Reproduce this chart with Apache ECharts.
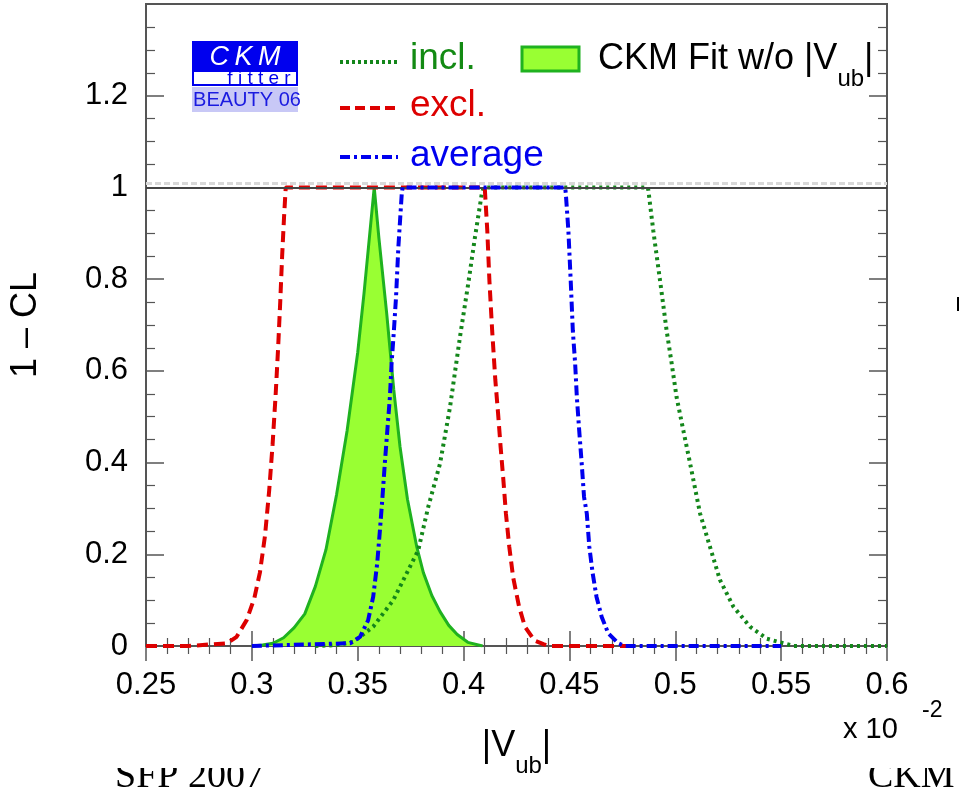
<!DOCTYPE html>
<html>
<head>
<meta charset="utf-8">
<script src="https://cdn.jsdelivr.net/npm/echarts@6/dist/echarts.min.js"></script>
<style>
html,body{margin:0;padding:0;background:#fff;}
#chart{width:961px;height:800px;}
</style>
</head>
<body>
<div id="chart"></div>
<script>
// ---------------- data (|Vub| in units of 1e-2, 1-CL) ----------------
const xTicks = [0.25, 0.3, 0.35, 0.4, 0.45, 0.5, 0.55, 0.6];
const yTicks = [0, 0.2, 0.4, 0.6, 0.8, 1, 1.2];

// CKM fit without |Vub| (filled)
const fitX = [0.300, 0.305, 0.310, 0.315, 0.320, 0.325, 0.330, 0.335, 0.340, 0.345, 0.350, 0.353, 0.3578, 0.360, 0.3637, 0.367, 0.370, 0.3735, 0.3779, 0.381, 0.385, 0.3889, 0.393, 0.397, 0.402, 0.409];
const fitY = [0, 0.002, 0.006, 0.018, 0.040, 0.070, 0.130, 0.210, 0.330, 0.470, 0.640, 0.770, 1.000, 0.890, 0.725, 0.560, 0.434, 0.320, 0.216, 0.160, 0.110, 0.075, 0.045, 0.025, 0.008, 0];

// inclusive (green dotted)
const inclX = [0.330, 0.340, 0.348, 0.3573, 0.3668, 0.3747, 0.3786, 0.3833, 0.3889, 0.3936, 0.3983, 0.4022, 0.4054, 0.4086, 0.4095, 0.487, 0.4873, 0.4896, 0.4928, 0.4959, 0.4983, 0.5006, 0.5038, 0.507, 0.5117, 0.5164, 0.5211, 0.5274, 0.5353, 0.5432, 0.5511, 0.556, 0.600];
const inclY = [0, 0.002, 0.009, 0.042, 0.100, 0.173, 0.209, 0.303, 0.398, 0.521, 0.674, 0.790, 0.892, 0.986, 1.000, 1.000, 0.993, 0.906, 0.797, 0.688, 0.616, 0.543, 0.470, 0.398, 0.289, 0.216, 0.144, 0.086, 0.042, 0.016, 0.006, 0, 0];

// exclusive (red dashed)
const exclX = [0.250, 0.270, 0.2884, 0.2928, 0.2976, 0.3012, 0.3038, 0.3062, 0.3082, 0.3098, 0.3112, 0.3124, 0.3134, 0.3143, 0.3152, 0.3160, 0.410, 0.4112, 0.4122, 0.4135, 0.4150, 0.4163, 0.4175, 0.4188, 0.4200, 0.4216, 0.4234, 0.4262, 0.4290, 0.4335, 0.4377, 0.440, 0.480];
const exclY = [0, 0, 0.006, 0.020, 0.057, 0.105, 0.160, 0.240, 0.340, 0.440, 0.545, 0.650, 0.750, 0.850, 0.935, 1.000, 1.000, 0.906, 0.797, 0.688, 0.580, 0.507, 0.434, 0.362, 0.289, 0.216, 0.150, 0.086, 0.042, 0.012, 0.004, 0, 0];

// average (blue dash-dot)
const avgX = [0.300, 0.3464, 0.3511, 0.3549, 0.3573, 0.3592, 0.3605, 0.3617, 0.3628, 0.3640, 0.3652, 0.3660, 0.3671, 0.3681, 0.3692, 0.3708, 0.3712, 0.4480, 0.4483, 0.4495, 0.4506, 0.4516, 0.4527, 0.4535, 0.4546, 0.4558, 0.4569, 0.4582, 0.4594, 0.4610, 0.4628, 0.4652, 0.4683, 0.4730, 0.476, 0.550];
const avgY = [0, 0.006, 0.020, 0.056, 0.107, 0.180, 0.253, 0.325, 0.398, 0.471, 0.543, 0.616, 0.688, 0.761, 0.870, 0.986, 1.000, 1.000, 0.986, 0.906, 0.797, 0.688, 0.616, 0.543, 0.471, 0.398, 0.325, 0.289, 0.216, 0.158, 0.107, 0.064, 0.028, 0.006, 0, 0];

const pairs = (xs, ys) => xs.map((x, i) => [x, ys[i]]);

// ---------------- styles ----------------
const SANS = "'Liberation Sans', Arial, Helvetica, sans-serif";
const SERIF = "'Liberation Serif', 'Times New Roman', serif";
const C_GREEN_DOT = '#13861a';
const C_RED = '#dd0000';
const C_BLUE = '#0000ee';
const C_FILL = '#99ff33';
const C_FILL_LINE = '#1fb21f';
const TICK = '#555';

const chart = echarts.init(document.getElementById('chart'), null, {renderer: 'canvas'});

function xAxisCfg(pos, showLabel) {
  return {
    type: 'value', position: pos, min: 0.25, max: 0.6, interval: 0.05,
    axisLine: {show: false},
    axisTick: {show: true, inside: true, length: 15, lineStyle: {color: TICK, width: 1.5}},
    minorTick: {show: true, splitNumber: 5, length: 8, lineStyle: {color: TICK, width: 1.2}},
    splitLine: {show: false}, minorSplitLine: {show: false},
    axisLabel: {show: showLabel, fontSize: 31, fontFamily: SANS, color: '#000', margin: 24,
      formatter: v => String(+v.toFixed(2))},
  };
}
function yAxisCfg(pos, showLabel) {
  return {
    type: 'value', position: pos, min: 0, max: 1.4, interval: 0.2,
    axisLine: {show: false},
    axisTick: {show: true, inside: true, length: 18, lineStyle: {color: TICK, width: 1.5}},
    minorTick: {show: true, splitNumber: 4, length: 9, lineStyle: {color: TICK, width: 1.2}},
    splitLine: {show: false}, minorSplitLine: {show: false},
    axisLabel: {show: showLabel, fontSize: 31, fontFamily: SANS, color: '#000', margin: 18,
      formatter: v => (v > 1.3 ? '' : String(+v.toFixed(1)))},
  };
}

const xb = xAxisCfg('bottom', true);
xb.name = '{n||V}{s|ub}{n||}';
xb.nameLocation = 'middle';
xb.nameGap = 82;
xb.nameTextStyle = {
  fontFamily: SANS, color: '#000',
  rich: {
    n: {fontSize: 36, fontFamily: SANS, color: '#000', lineHeight: 50, verticalAlign: 'top'},
    s: {fontSize: 24, fontFamily: SANS, color: '#000', lineHeight: 50, verticalAlign: 'bottom'}
  }
};
const yl = yAxisCfg('left', true);
yl.name = '1 \u2013 CL';
yl.nameLocation = 'middle';
yl.nameGap = 102;
yl.nameRotate = 90;
yl.nameTextStyle = {fontSize: 36, fontFamily: SANS, color: '#000'};

const option = {
  backgroundColor: '#fff',
  animation: false,
  grid: {left: 146, right: 74, top: 4, bottom: 154, containLabel: false, outerBoundsMode: 'none',
    show: true, borderColor: '#555', borderWidth: 2, backgroundColor: 'transparent'},
  xAxis: [xb, xAxisCfg('top', false)],
  yAxis: [yl, yAxisCfg('right', false)],
  series: [
    {
      name: 'CKM Fit w/o |Vub|', type: 'line', data: pairs(fitX, fitY), showSymbol: false, z: 2,
      lineStyle: {color: C_FILL_LINE, width: 3},
      areaStyle: {color: C_FILL, opacity: 1},
    },
    {
      name: 'incl.', type: 'line', data: pairs(inclX, inclY), showSymbol: false, z: 3,
      lineStyle: {color: C_GREEN_DOT, width: 4, type: [3, 4], cap: 'butt'},
    },
    {
      name: 'excl.', type: 'line', data: pairs(exclX, exclY), showSymbol: false, z: 4,
      lineStyle: {color: C_RED, width: 4, type: [11, 6], cap: 'butt'},
    },
    {
      name: 'average', type: 'line', data: pairs(avgX, avgY), showSymbol: false, z: 5,
      lineStyle: {color: C_BLUE, width: 4, type: [10, 4, 3, 4], cap: 'butt'},
    },
    {
      name: 'ref', type: 'line', data: [], z: 10, silent: true,
      markLine: {
        symbol: 'none', silent: true, label: {show: false}, animation: false,
        data: [
          {yAxis: 1.009, lineStyle: {color: '#d8d8d8', width: 3, type: [6, 3]}},
          {yAxis: 1, lineStyle: {color: '#444', width: 2, type: 'solid'}}
        ]
      }
    }
  ],
  graphic: {
    elements: [
      // CKMfitter logo
      {type: 'rect', shape: {x: 192, y: 41, width: 106, height: 31}, style: {fill: '#0000ee'}},
      {type: 'text', x: 245, y: 57, style: {text: 'C\u2009K\u2009M', fill: '#fff', fontSize: 27, fontStyle: 'italic', fontFamily: SANS, align: 'center', verticalAlign: 'middle'}},
      {type: 'rect', shape: {x: 193, y: 71, width: 104, height: 14}, style: {fill: '#fff', stroke: '#0000ee', lineWidth: 2}},
      {type: 'text', x: 259, y: 79, style: {text: 'f i t t e r', fill: '#0000ee', fontSize: 19, fontFamily: SANS, align: 'center', verticalAlign: 'middle'}},
      {type: 'rect', shape: {x: 192, y: 87, width: 106, height: 25}, style: {fill: '#c8c8f6'}},
      {type: 'text', x: 247, y: 100, style: {text: 'BEAUTY 06', fill: '#1a1ae0', fontSize: 20, fontFamily: SANS, align: 'center', verticalAlign: 'middle'}},

      // legend
      {type: 'line', shape: {x1: 340, y1: 62, x2: 398, y2: 62}, style: {stroke: C_GREEN_DOT, lineWidth: 4, lineDash: [3, 3]}},
      {type: 'text', x: 410, y: 59, style: {text: 'incl.', fill: '#138a13', fontSize: 37, fontFamily: SANS, verticalAlign: 'middle'}},
      {type: 'line', shape: {x1: 340, y1: 108, x2: 398, y2: 108}, style: {stroke: C_RED, lineWidth: 4, lineDash: [10, 5]}},
      {type: 'text', x: 410, y: 106, style: {text: 'excl.', fill: C_RED, fontSize: 37, fontFamily: SANS, verticalAlign: 'middle'}},
      {type: 'line', shape: {x1: 340, y1: 157, x2: 398, y2: 157}, style: {stroke: C_BLUE, lineWidth: 4, lineDash: [10, 4, 3, 4]}},
      {type: 'text', x: 410, y: 156, style: {text: 'average', fill: C_BLUE, fontSize: 37, fontFamily: SANS, verticalAlign: 'middle'}},
      {type: 'rect', shape: {x: 522, y: 47, width: 57, height: 24}, style: {fill: C_FILL, stroke: C_FILL_LINE, lineWidth: 3}},
      {type: 'text', x: 598, y: 41, style: {text: '{a|CKM Fit w/o |V}{b|ub}{a||}', fontFamily: SANS, fill: '#000',
        rich: {a: {fontSize: 36, fontFamily: SANS, fill: '#000', lineHeight: 50, verticalAlign: 'top'},
               b: {fontSize: 24, fontFamily: SANS, fill: '#000', lineHeight: 50, verticalAlign: 'bottom'}}}},

      // exponent
      {type: 'text', x: 843, y: 730, style: {text: 'x 10', fill: '#000', fontSize: 29, fontFamily: SANS, verticalAlign: 'middle'}},
      {type: 'text', x: 922, y: 711, style: {text: '-2', fill: '#000', fontSize: 23, fontFamily: SANS, verticalAlign: 'middle'}},

      // footer (slide text, clipped at the top)
      {type: 'text', x: 115, y: 777, z: 1, style: {text: 'SFP 2007', fill: '#000', fontSize: 38, fontFamily: SERIF, verticalAlign: 'middle'}},
      {type: 'text', x: 868, y: 777, z: 1, style: {text: 'CKM', fill: '#000', fontSize: 38, fontFamily: SERIF, verticalAlign: 'middle'}},
      {type: 'rect', z: 5, shape: {x: 100, y: 752, width: 180, height: 16}, style: {fill: '#fff'}},
      {type: 'rect', z: 5, shape: {x: 860, y: 752, width: 101, height: 16}, style: {fill: '#fff'}},
      {type: 'line', shape: {x1: 958, y1: 297, x2: 958, y2: 311}, style: {stroke: '#000', lineWidth: 2}}
    ]
  }
};
chart.setOption(option);
</script>
</body>
</html>
